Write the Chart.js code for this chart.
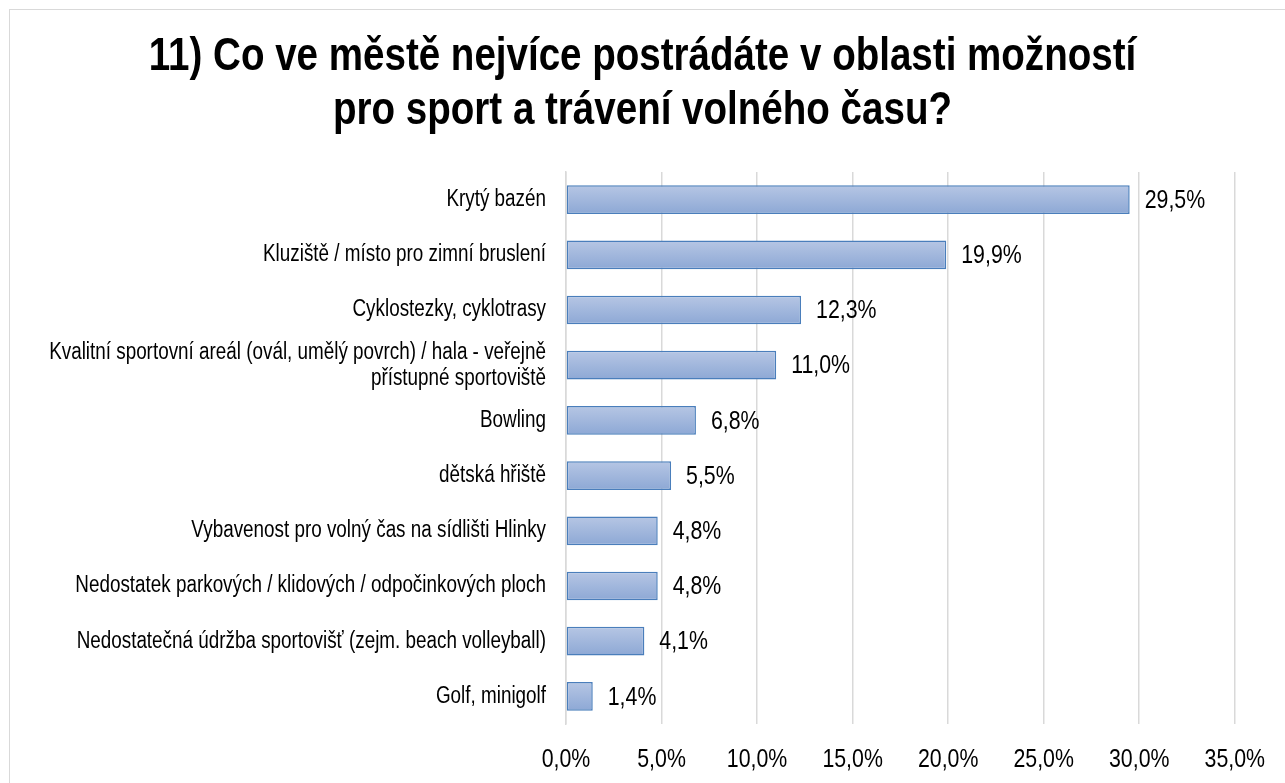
<!DOCTYPE html>
<html lang="cs">
<head>
    <meta charset="UTF-8">
    <title>Co ve městě nejvíce postrádáte</title>
    <style>
        html, body {
            margin: 0;
            padding: 0;
            background: #fff;
            overflow: hidden;
        }
        .frame {
            position: absolute;
            left: 9px;
            top: 9px;
            width: 1300px;
            height: 800px;
            border: 1px solid #d9d9d9;
        }
        .chart-box {
            position: absolute;
            left: 0;
            top: 0;
            width: 1285px;
            height: 783px;
        }
    </style>
    <script src="https://cdn.jsdelivr.net/npm/chart.js"></script>
</head>
<body>
    <div class="frame"></div>
    <div class="chart-box">
        <canvas id="sportChart"></canvas>
    </div>

    <script>
        // no Arial Narrow here, so Liberation Sans is squeezed to 82% width instead
        const FONT = "'Liberation Sans', Arial, sans-serif";
        const NARROW = 0.82;

        const titleLines = [
            '11) Co ve městě nejvíce postrádáte v oblasti možností',
            'pro sport a trávení volného času?'
        ];

        const categories = [
            'Krytý bazén',
            'Kluziště / místo pro zimní bruslení',
            'Cyklostezky, cyklotrasy',
            ['Kvalitní sportovní areál (ovál, umělý povrch) / hala - veřejně', 'přístupné sportoviště'],
            'Bowling',
            'dětská hřiště',
            'Vybavenost pro volný čas na sídlišti Hlinky',
            'Nedostatek parkových / klidových / odpočinkových ploch',
            'Nedostatečná údržba sportovišť (zejm. beach volleyball)',
            'Golf, minigolf'
        ];

        const shares = [29.5, 19.9, 12.3, 11.0, 6.8, 5.5, 4.8, 4.8, 4.1, 1.4];

        const xTicks = [0, 5, 10, 15, 20, 25, 30, 35];

        const BAR_PCT = 0.52;

        function pct(v) {
            return v.toFixed(1).replace('.', ',') + '%';
        }

        function narrowText(ctx) {
            const fill = ctx.fillText.bind(ctx);
            const measure = ctx.measureText.bind(ctx);
            ctx.fillText = function (text, x, y) {
                ctx.save();
                ctx.translate(x, y);
                ctx.scale(NARROW, 1);
                fill(text, 0, 0);
                ctx.restore();
            };
            ctx.measureText = function (text) {
                const m = measure(text);
                return {
                    width: m.width * NARROW,
                    actualBoundingBoxAscent: m.actualBoundingBoxAscent,
                    actualBoundingBoxDescent: m.actualBoundingBoxDescent
                };
            };
        }

        // vertical gradient for each bar, from the category slot on the y scale
        function barFill(context) {
            const chart = context.chart;
            const yScale = chart.scales.y;
            if (!yScale || !chart.chartArea) return '#a3b8dd';
            const yc = yScale.getPixelForValue(context.dataIndex);
            const half = (yScale.height / categories.length) * BAR_PCT / 2;
            const g = chart.ctx.createLinearGradient(0, yc - half, 0, yc + half);
            g.addColorStop(0, '#b6c6e4');
            g.addColorStop(1, '#8da8d5');
            return g;
        }

        const valueLabels = {
            id: 'valueLabels',
            afterDatasetsDraw(chart) {
                const ctx = chart.ctx;
                const meta = chart.getDatasetMeta(0);
                ctx.save();
                ctx.font = '26px ' + FONT;
                ctx.fillStyle = '#000';
                ctx.textAlign = 'left';
                ctx.textBaseline = 'middle';
                meta.data.forEach((bar, i) => {
                    ctx.fillText(pct(shares[i]), bar.x + 15, bar.y + 1);
                });
                ctx.restore();
            }
        };

        const ctx = document.getElementById('sportChart').getContext('2d');
        narrowText(ctx);

        new Chart(ctx, {
            type: 'bar',
            data: {
                labels: categories,
                datasets: [{
                    data: shares,
                    backgroundColor: barFill,
                    borderColor: '#4a7ebb',
                    borderWidth: 1.5,
                    borderSkipped: false,
                    barPercentage: BAR_PCT,
                    categoryPercentage: 1
                }]
            },
            options: {
                indexAxis: 'y',
                responsive: true,
                maintainAspectRatio: false,
                animation: false,
                layout: {
                    padding: { left: 50, right: 50, top: 0, bottom: 0 }
                },
                plugins: {
                    legend: { display: false },
                    tooltip: { enabled: false },
                    title: {
                        display: true,
                        text: titleLines,
                        color: '#000',
                        font: { family: FONT, size: 47, weight: 'bold', lineHeight: 1.149 },
                        padding: { top: 30, bottom: 34 }
                    }
                },
                scales: {
                    x: {
                        min: 0,
                        max: 35,
                        afterBuildTicks(scale) {
                            scale.ticks = xTicks.map(v => ({ value: v }));
                        },
                        afterFit(scale) {
                            scale.height = 59;
                        },
                        grid: {
                            color: '#d9d9d9',
                            lineWidth: 1.5,
                            drawTicks: false
                        },
                        border: { display: false },
                        ticks: {
                            color: '#000',
                            padding: 20,
                            font: { family: FONT, size: 26 },
                            callback: v => pct(v)
                        }
                    },
                    y: {
                        afterFit(scale) {
                            scale.width = 516;
                        },
                        grid: { display: false, drawTicks: false },
                        border: { display: true, color: '#d9d9d9', width: 1.5 },
                        ticks: {
                            color: '#000',
                            padding: 20,
                            autoSkip: false,
                            font: { family: FONT, size: 23, lineHeight: 1.13 }
                        }
                    }
                }
            },
            plugins: [valueLabels]
        });
    </script>
</body>
</html>
